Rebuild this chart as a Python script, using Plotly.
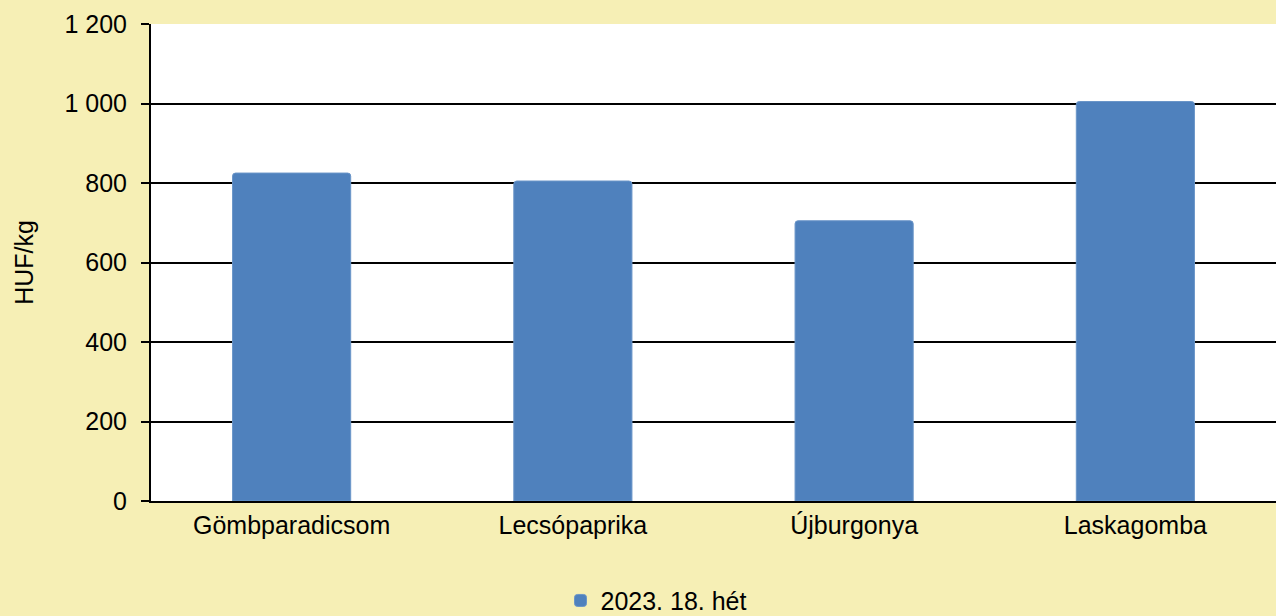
import plotly.graph_objects as go

# data
categories = ["Gömbparadicsom", "Lecsópaprika", "Újburgonya", "Laskagomba"]
prices = [825, 805, 705, 1005]
series_name = "2023. 18. hét"
y_ticks = [0, 200, 400, 600, 800, 1000, 1200]

bg = "#F6EFB5"
blue = "#4F81BD"

fig = go.Figure()
fig.add_trace(go.Bar(
    x=categories, y=prices, name=series_name,
    marker=dict(color=blue, line=dict(color="#6A95C8", width=1), cornerradius=3),
))

fig.update_layout(
    width=1276, height=616,
    paper_bgcolor=bg, plot_bgcolor="white",
    margin=dict(l=151, r=0, t=24, b=115, autoexpand=False),
    font=dict(family="Liberation Sans, Arial, sans-serif", size=25, color="black"),
    separators=", ",
    bargap=0.58,
    showlegend=True,
    legend=dict(
        orientation="h", x=0.364, xanchor="left", y=-0.209, yanchor="middle",
        bgcolor="rgba(0,0,0,0)", font=dict(size=25), itemwidth=30,
    ),
)
fig.update_xaxes(
    showline=True, linecolor="black", linewidth=2,
    showgrid=False, ticks="", ticklabelstandoff=1,
)
fig.update_yaxes(
    range=[0, 1200], tickvals=y_ticks, tickformat=",",
    showgrid=True, gridcolor="black", gridwidth=2,
    showline=True, linecolor="black", linewidth=2,
    ticks="outside", ticklen=8, tickwidth=2, tickcolor="black",
    ticklabelstandoff=9,
    zeroline=False,
    title=dict(text="HUF/kg", standoff=24, font=dict(size=25)),
)

# no page margin around the figure
fig.write_html(
    "out.html",
    config={"displayModeBar": False},
    post_script="document.body.style.margin='0';",
)
